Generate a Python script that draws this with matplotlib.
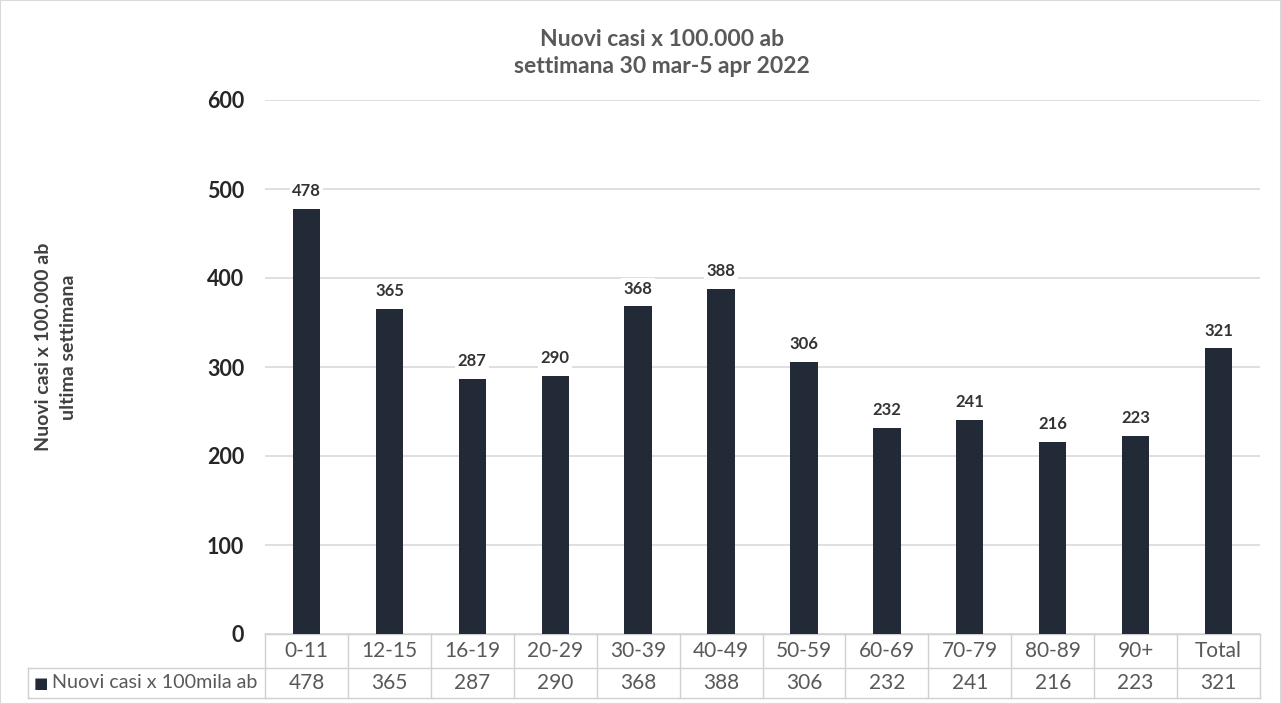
import matplotlib
matplotlib.use("Agg")
import matplotlib.pyplot as plt
from matplotlib.transforms import blended_transform_factory

plt.rcParams['font.family'] = ['Lato', 'DejaVu Sans']

categories = ["0-11", "12-15", "16-19", "20-29", "30-39", "40-49", "50-59",
              "60-69", "70-79", "80-89", "90+", "Total"]
values = [478, 365, 287, 290, 368, 388, 306, 232, 241, 216, 223, 321]
series_name = "Nuovi casi x 100mila ab"
title = "Nuovi casi x 100.000 ab\nsettimana 30 mar-5 apr 2022"
ylabel = "Nuovi casi x 100.000 ab\nultima settimana"
yticks = [0, 100, 200, 300, 400, 500, 600]

bar_color = "#222a38"
grid_color = "#d9d9d9"
text_gray = "#595959"

W, H = 1281, 704
fig = plt.figure(figsize=(W / 100, H / 100), dpi=100)
ax = fig.add_axes([265 / W, 1 - 634 / H, (1260 - 265) / W, (634 - 100) / H])

n = len(categories)
xs = list(range(n))
ax.bar(xs, values, width=0.33, color=bar_color, zorder=3)
ax.set_xlim(-0.5, n - 0.5)
ax.set_ylim(0, 600)
ax.set_yticks(yticks)
ax.set_yticklabels([str(t) for t in yticks], fontsize=15.5, fontweight="bold", color="#262626")
ax.tick_params(axis="y", length=0, pad=15)
ax.set_xticks([])
ax.grid(axis="y", color=grid_color, linewidth=1.2, zorder=0)
for s in ax.spines.values():
    s.set_visible(False)

for x, v in zip(xs, values):
    ax.annotate(str(v), (x, v), xytext=(0, 7), textcoords="offset points",
                ha="center", va="bottom", fontsize=12, fontweight="bold", color="#333333",
                bbox=dict(boxstyle="square,pad=0.15", fc="white", ec="none"), zorder=4)

fig.text(662 / W, 1 - 53 / H, title, ha="center", va="center", fontsize=16.5,
         fontweight="bold", color=text_gray, linespacing=1.35)
fig.text(56 / W, 1 - 347 / H, ylabel, ha="center", va="center", rotation=90,
         fontsize=14, fontweight="bold", color="#404040", linespacing=1.55)

# data table
tr = blended_transform_factory(ax.transData, ax.transAxes)
axh = 634 - 100
r1 = -34 / axh
r2 = -64 / axh
lw = 1.0
lc = "#d0d0d0"
ax.plot([-0.5, n - 0.5], [0, 0], transform=tr, color=lc, lw=lw, clip_on=False)
ax.plot([-0.5, n - 0.5], [r1, r1], transform=tr, color=lc, lw=lw, clip_on=False)
ax.plot([-0.5, n - 0.5], [r2, r2], transform=tr, color=lc, lw=lw, clip_on=False)
for i in range(n + 1):
    ax.plot([i - 0.5, i - 0.5], [0, r2], transform=tr, color=lc, lw=lw, clip_on=False)
x_left_fig = 28 / W
x_ax_left = 265 / W
fig.add_artist(plt.Line2D([x_left_fig, x_ax_left], [1 - 668 / H, 1 - 668 / H], color=lc, lw=lw))
fig.add_artist(plt.Line2D([x_left_fig, x_ax_left], [1 - 698 / H, 1 - 698 / H], color=lc, lw=lw))
fig.add_artist(plt.Line2D([x_left_fig, x_left_fig], [1 - 668 / H, 1 - 698 / H], color=lc, lw=lw))

for x, c, v in zip(xs, categories, values):
    ax.text(x, r1 / 2, c, transform=tr, ha="center", va="center", fontsize=15, color=text_gray)
    ax.text(x, (r1 + r2) / 2, str(v), transform=tr, ha="center", va="center", fontsize=15, color=text_gray)

fig.text(34 / W, 1 - 683 / H, "\u25A0", ha="left", va="center", fontsize=11, color=bar_color,
         family=["DejaVu Sans"])
fig.text(52 / W, 1 - 683 / H, series_name, ha="left", va="center", fontsize=14.2, color=text_gray)

fig.add_artist(plt.Rectangle((0, 0), 1, 1, transform=fig.transFigure, fill=False,
                             ec="#d9d9d9", lw=1.5))

fig.savefig("out.png", dpi=100)
